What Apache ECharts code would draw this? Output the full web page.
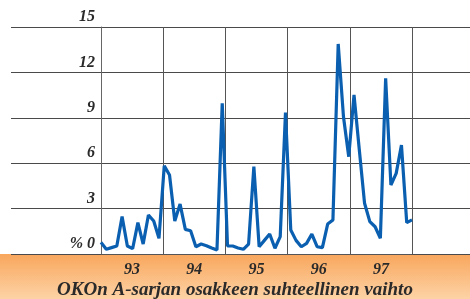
<!DOCTYPE html>
<html>
<head>
<meta charset="utf-8">
<script src="https://cdn.jsdelivr.net/npm/echarts@6/dist/echarts.min.js"></script>
<style>
  html, body { margin: 0; padding: 0; background: #fff; }
  #main { width: 470px; height: 299px; }
</style>
</head>
<body>
<div id="main"></div>
<script>
// vuodet ja kuukausittainen vaihto (%)
var years = ['93', '94', '95', '96', '97']
var yTicks = [0, 3, 6, 9, 12, 15]
var v93 = [0.77, 0.31, 0.42, 0.53, 2.47, 0.53, 0.35, 2.07, 0.66, 2.58, 2.18, 1.04]
var v94 = [5.82, 5.22, 2.18, 3.30, 1.63, 1.54, 0.48, 0.66, 0.55, 0.40, 0.26, 9.96]
var v95 = [0.53, 0.53, 0.40, 0.31, 0.66, 5.77, 0.48, 0.90, 1.32, 0.38, 1.15, 9.34]
var v96 = [1.59, 0.90, 0.48, 0.70, 1.32, 0.48, 0.42, 1.98, 2.25, 13.88, 9.07, 6.43]
var v97 = [10.51, 6.90, 3.35, 2.14, 1.80, 1.04, 11.61, 4.56, 5.33, 7.20, 2.07, 2.25]
var title = 'OKOn A-sarjan osakkeen suhteellinen vaihto'

var values = v93.concat(v94, v95, v96, v97)
var months = values.map(function (v, i) { return 'k' + i })

var serif = '"Liberation Serif", "DejaVu Serif", serif'
var chart = echarts.init(document.getElementById('main'))

chart.setOption({
  backgroundColor: '#fff',
  animation: false,
  title: {
    text: title,
    left: 'center',
    top: 276,
    textStyle: {
      fontFamily: serif, fontStyle: 'italic', fontWeight: 'bold',
      fontSize: 19, color: '#2a2a2a'
    }
  },
  graphic: [{
    type: 'rect',
    z: -10,
    shape: { x: 0, y: 254, width: 470, height: 45 },
    style: {
      fill: new echarts.graphic.LinearGradient(0, 0, 0, 1, [
        { offset: 0, color: '#f8a65c' },
        { offset: 1, color: '#fdd3a6' }
      ])
    }
  }],
  grid: [
    // apuruudukko vaakaviivoille
    { left: 11, right: 0, top: 27, bottom: 45 },
    // varsinainen kuvaaja
    { left: 101, width: 311, top: 27, bottom: 45 }
  ],
  xAxis: [
    { gridIndex: 0, type: 'value', min: 0, max: 1, show: false },
    {
      gridIndex: 1, type: 'category', data: years, boundaryGap: true,
      axisLine: { show: true, lineStyle: { color: '#555', width: 1 } },
      axisTick: { show: false },
      axisLabel: {
        margin: 8, color: '#2a2a2a', fontFamily: serif, fontStyle: 'italic',
        fontWeight: 'bold', fontSize: 16
      },
      splitLine: { show: true, interval: 0, lineStyle: { color: '#555', width: 1 } }
    },
    {
      gridIndex: 1, type: 'category', data: months, boundaryGap: false,
      show: false
    }
  ],
  yAxis: [
    {
      gridIndex: 0, type: 'value', min: 0, max: 15, interval: 3,
      axisLine: { show: false }, axisTick: { show: false }, axisLabel: { show: false },
      splitLine: { show: true, lineStyle: { color: '#4a4a4a', width: 1 } }
    },
    {
      gridIndex: 1, type: 'value', min: 0, max: 15, interval: 3,
      axisLine: { show: true, lineStyle: { color: '#666', width: 1 } },
      axisTick: { show: false },
      splitLine: { show: false },
      axisLabel: {
        margin: 6, verticalAlign: 'bottom', padding: [0, 0, 2, 0],
        color: '#2a2a2a', fontFamily: serif, fontStyle: 'italic',
        fontWeight: 'bold', fontSize: 16,
        formatter: function (v) { return v === 0 ? '% 0' : String(v) }
      }
    }
  ],
  series: [{
    type: 'line',
    xAxisIndex: 2,
    yAxisIndex: 1,
    data: values,
    symbol: 'none',
    lineStyle: { color: '#0a5fb0', width: 3.2 },
    z: 5
  }]
})
</script>
</body>
</html>
